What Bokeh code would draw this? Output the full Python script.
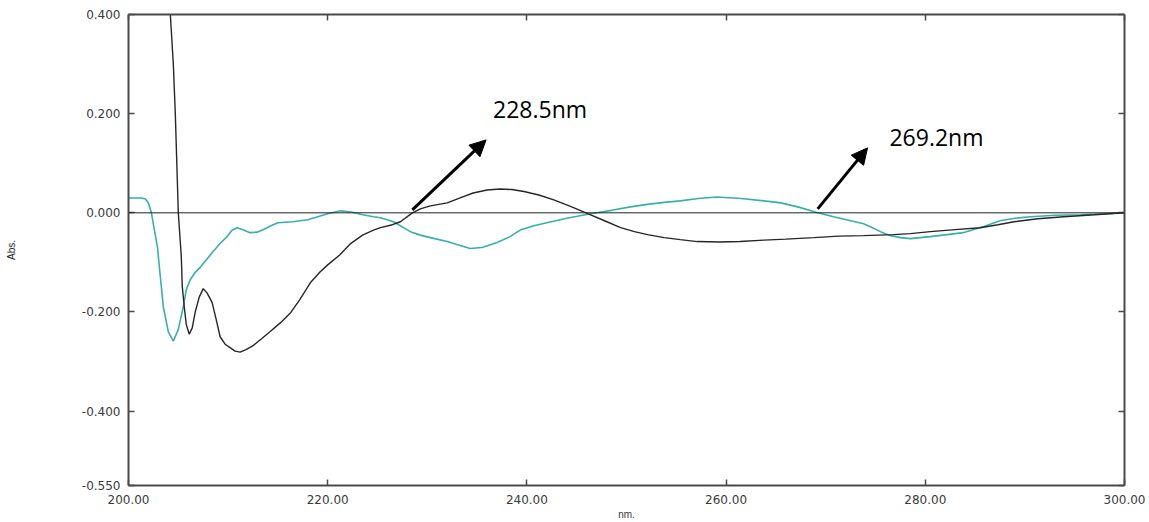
from bokeh.plotting import figure
from bokeh.models import (LinearAxis, FixedTicker, NumeralTickFormatter, Span,
                          Arrow, NormalHead, Label, Range1d)
from bokeh.embed import file_html
from bokeh.resources import INLINE

# ---------------- data ----------------
black_x = [204.0, 204.2, 204.5, 204.7, 204.85, 205.0, 205.3, 205.4, 205.6, 205.8,
           206.1, 206.4, 206.7, 207.1, 207.5, 207.9, 208.4, 208.8, 209.2, 209.7,
           210.2, 210.7, 211.2, 211.8, 212.5, 213.3, 214.2, 215.3, 216.3, 217.2,
           218.3, 219.2, 220.0, 221.2, 222.3, 223.5, 224.6, 225.3, 226.5, 227.3,
           228.5, 229.3, 230.3, 232.0, 233.3, 234.6, 236.0, 237.3, 238.5, 239.7,
           241.2, 242.7, 244.5, 246.4, 247.8, 249.4, 250.8, 252.1, 253.8, 255.4,
           257.1, 259.3, 261.4, 263.8, 266.0, 268.8, 271.3, 273.8, 276.8, 278.5,
           280.5, 283.0, 285.5, 287.3, 288.9, 291.3, 293.9, 297.0, 300.0]
black_y = [0.50, 0.40, 0.30, 0.20, 0.10, 0.000, -0.088, -0.149, -0.190, -0.225,
           -0.245, -0.232, -0.200, -0.170, -0.153, -0.162, -0.181, -0.215, -0.250, -0.265,
           -0.272, -0.279, -0.281, -0.276, -0.268, -0.255, -0.240, -0.221, -0.201, -0.175,
           -0.140, -0.120, -0.105, -0.085, -0.062, -0.045, -0.035, -0.030, -0.024, -0.018,
           0.000, 0.008, 0.014, 0.020, 0.030, 0.040, 0.046, 0.048, 0.047, 0.043,
           0.036, 0.026, 0.012, -0.004, -0.016, -0.030, -0.038, -0.044, -0.050, -0.054,
           -0.058, -0.059, -0.058, -0.055, -0.053, -0.050, -0.047, -0.046, -0.044, -0.042,
           -0.038, -0.034, -0.030, -0.024, -0.018, -0.012, -0.008, -0.004, 0.000]

teal_x = [200.0, 201.3, 201.7, 202.0, 202.3, 202.6, 202.9, 203.2, 203.5, 204.0,
          204.5, 205.0, 205.5, 205.8, 206.2, 206.7, 207.2, 207.8, 208.5, 209.2,
          209.9, 210.4, 210.9, 211.5, 212.2, 212.9, 213.5, 214.3, 215.0, 216.5,
          218.0, 219.0, 220.0, 221.3, 222.5, 223.5, 224.6, 225.3, 226.6, 228.3,
          229.3, 230.3, 232.0, 233.3, 234.3, 235.5, 237.0, 238.3, 239.4, 240.7,
          242.0, 244.0, 246.4, 248.5, 250.4, 252.1, 253.8, 255.4, 257.2, 259.1,
          261.5, 263.8, 265.5, 267.2, 269.2, 270.8, 272.3, 273.8, 274.7, 275.5,
          276.5, 277.5, 278.5, 279.5, 280.5, 282.2, 283.8, 284.8, 285.8, 287.5,
          289.0, 290.6, 293.0, 295.6, 298.0, 300.0]
teal_y = [0.030, 0.030, 0.028, 0.020, 0.000, -0.035, -0.068, -0.130, -0.190, -0.240,
          -0.259, -0.235, -0.190, -0.155, -0.135, -0.120, -0.110, -0.095, -0.078, -0.062,
          -0.048, -0.035, -0.030, -0.034, -0.040, -0.039, -0.034, -0.026, -0.020, -0.018,
          -0.014, -0.008, -0.002, 0.004, 0.001, -0.004, -0.008, -0.010, -0.018, -0.038,
          -0.045, -0.050, -0.058, -0.066, -0.072, -0.070, -0.060, -0.048, -0.034, -0.026,
          -0.020, -0.011, -0.002, 0.005, 0.012, 0.017, 0.021, 0.024, 0.029, 0.032,
          0.029, 0.024, 0.020, 0.012, 0.000, -0.008, -0.015, -0.022, -0.030, -0.038,
          -0.046, -0.050, -0.052, -0.050, -0.048, -0.044, -0.040, -0.034, -0.028, -0.016,
          -0.011, -0.008, -0.005, -0.004, -0.002, 0.000]

x_ticks = [200, 220, 240, 260, 280, 300]
y_ticks = [-0.55, -0.4, -0.2, 0.0, 0.2, 0.4]
baseline = 0.0

annot_wavelengths = [228.5, 269.2]
annot_labels = ["228.5nm", "269.2nm"]

# ---------------- figure ----------------
p = figure(width=1149, height=522, output_backend="svg", toolbar_location=None,
           x_range=Range1d(200, 300), y_range=Range1d(-0.55, 0.4),
           min_border_left=128, min_border_right=25, min_border_top=14,
           min_border_bottom=35, x_axis_label="nm.", y_axis_label="Abs.")
p.outline_line_color = None
p.xgrid.visible = False
p.ygrid.visible = False
p.background_fill_color = "white"
p.border_fill_color = "white"

tick_font = "DejaVu Sans"
label_color = "#3a3a3a"
axis_color = "#4a4a4a"

def style_axis(ax, ticks, fmt):
    ax.ticker = FixedTicker(ticks=ticks)
    ax.formatter = NumeralTickFormatter(format=fmt)
    ax.major_tick_in = 6
    ax.major_tick_out = 0
    ax.minor_tick_line_color = None
    ax.axis_line_color = axis_color
    ax.axis_line_width = 2
    ax.major_tick_line_color = axis_color
    ax.major_tick_line_width = 1.5
    ax.major_label_text_font = tick_font
    ax.major_label_text_font_size = "12px"
    ax.major_label_text_color = label_color

xa = p.xaxis[0]
style_axis(xa, x_ticks, "0.00")
xa.major_label_standoff = 9
xa.axis_label_text_font = "Liberation Sans"
xa.axis_label_text_font_size = "10px"
xa.axis_label_text_font_style = "normal"
xa.axis_label_text_color = label_color
xa.axis_label_standoff = 2

ya = p.yaxis[0]
style_axis(ya, y_ticks, "0.000")
ya.major_label_standoff = 8
ya.axis_label_text_font = "Liberation Sans"
ya.axis_label_text_font_size = "10px"
ya.axis_label_text_font_style = "normal"
ya.axis_label_text_color = "#222222"
ya.axis_label_standoff = 62

top = LinearAxis()
style_axis(top, x_ticks, "0.00")
top.major_label_text_color = None
top.major_label_text_font_size = "1px"
top.major_label_standoff = 0
p.add_layout(top, "above")

right = LinearAxis()
style_axis(right, y_ticks, "0.000")
right.major_label_text_color = None
right.major_label_text_font_size = "1px"
right.major_label_standoff = 0
p.add_layout(right, "right")

p.add_layout(Span(location=baseline, dimension="width", line_color="#222222",
                  line_width=1))

p.line(teal_x, teal_y, line_color="#38aeae", line_width=1.6)
p.line(black_x, black_y, line_color="#262626", line_width=1.4)

# ---------------- annotations ----------------
arrow_dx = [7.4, 5.0]
arrow_dy0 = [0.006, 0.008]
arrow_dy1 = [0.147, 0.131]
label_dx = [8.1, 7.2]
label_y = [0.209, 0.153]
for i, (wl, txt) in enumerate(zip(annot_wavelengths, annot_labels)):
    p.add_layout(Arrow(end=NormalHead(size=16, fill_color="black", line_color="black"),
                       x_start=wl, y_start=baseline + arrow_dy0[i],
                       x_end=wl + arrow_dx[i], y_end=baseline + arrow_dy1[i],
                       line_width=3, line_color="black"))
    p.add_layout(Label(x=wl + label_dx[i], y=label_y[i], text=txt,
                       text_font="Open Sans", text_font_size="23px",
                       text_color="black", text_baseline="middle"))

open("out.html", "w").write(file_html(p, INLINE))
